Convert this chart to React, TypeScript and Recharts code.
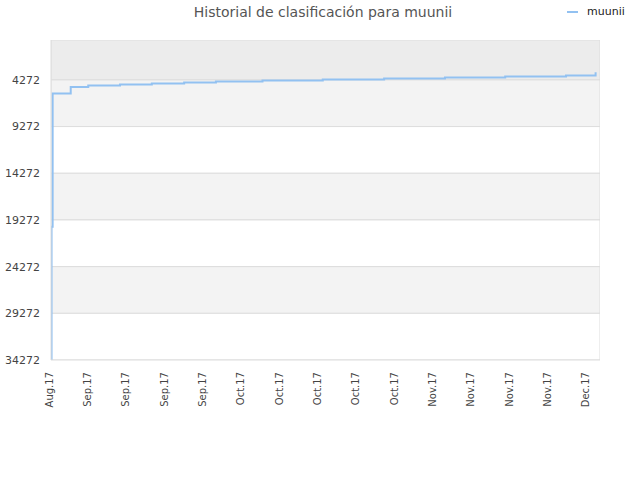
import React from "react";
import { LineChart, Line, XAxis, YAxis, ReferenceArea } from "recharts";

// day offsets from the first tick (Aug 27)
const days = [0, 0.1, 0.3, 3.6, 6.8, 12.6, 18.4, 24.3, 30.1, 38.6, 49.6, 60.8, 71.9, 82.9, 94.0, 99.4];
const ranks = [34272, 20000, 5740, 5022, 4882, 4775, 4668, 4561, 4454, 4347, 4240, 4133, 4025, 3918, 3811, 3450];

const tickDays = [0, 7, 14, 21, 28, 35, 42, 49, 56, 63, 70, 77, 84, 91, 98];
const tickLabels = [
  "Aug.17", "Sep.17", "Sep.17", "Sep.17", "Sep.17",
  "Oct.17", "Oct.17", "Oct.17", "Oct.17", "Oct.17",
  "Nov.17", "Nov.17", "Nov.17", "Nov.17", "Dec.17",
];
const yTicks = [4272, 9272, 14272, 19272, 24272, 29272, 34272];
const bandEdges = [0, 4272, 9272, 14272, 19272, 24272, 29272, 34272];
const bandFills = ["#ececec", "#f3f3f3", "#ffffff", "#f3f3f3", "#ffffff", "#f3f3f3", "#ffffff"];

const seriesName = "muunii";
const lineColor = "#92c1f1";

const data = days.map((d, i) => ({ day: d, rank: ranks[i] }));

const FONT = "'DejaVu Sans', Verdana, sans-serif";

const XTick = (props: any) => {
  const { x, y, payload } = props;
  const idx = tickDays.indexOf(payload.value);
  return (
    <text
      x={x}
      y={y}
      dy={1.5}
      transform={`rotate(-90, ${x}, ${y})`}
      textAnchor="end"
      fontSize={10}
      fontFamily={FONT}
      fill="#444"
    >
      {idx >= 0 ? tickLabels[idx] : ""}
    </text>
  );
};

export default function App() {
  return (
    <div style={{ position: "absolute", left: 0, top: 0, width: 640, height: 480, background: "#fff" }}>
      <div
        style={{
          position: "absolute",
          left: 0,
          top: 4,
          width: 646,
          textAlign: "center",
          fontFamily: FONT,
          fontSize: 14,
          color: "#555",
        }}
      >
        Historial de clasificación para muunii
      </div>
      <div
        style={{
          position: "absolute",
          left: 567,
          top: 5,
          display: "flex",
          alignItems: "center",
          fontFamily: FONT,
          fontSize: 11,
          color: "#222",
          whiteSpace: "nowrap",
        }}
      >
        <span style={{ display: "inline-block", width: 11, height: 2, background: lineColor, marginRight: 9 }} />
        <span>{seriesName}</span>
      </div>
      <LineChart width={640} height={480} data={data} margin={{ top: 40, right: 40, bottom: 60, left: 0 }}>
        {bandFills.map((f, i) => (
          <ReferenceArea
            key={i}
            y1={bandEdges[i]}
            y2={bandEdges[i + 1]}
            fill={f}
            fillOpacity={1}
            stroke="#dddddd"
            strokeWidth={1}
            ifOverflow="hidden"
          />
        ))}
        <XAxis
          dataKey="day"
          type="number"
          domain={[0, 100.2]}
          ticks={tickDays}
          interval={0}
          height={60}
          tick={<XTick />}
          tickLine={false}
          axisLine={{ stroke: "#dddddd" }}
          tickSize={0}
          tickMargin={12}
          allowDataOverflow
        />
        <YAxis
          type="number"
          reversed
          domain={[0, 34272]}
          ticks={yTicks}
          interval={0}
          width={51}
          tickLine={false}
          axisLine={{ stroke: "#dddddd" }}
          tickSize={6}
          tickMargin={5}
          tick={{ fontSize: 11, fontFamily: FONT, fill: "#444" }}
          allowDataOverflow
        />
        <Line
          type="stepAfter"
          dataKey="rank"
          name={seriesName}
          stroke={lineColor}
          strokeWidth={2}
          dot={false}
          isAnimationActive={false}
        />
      </LineChart>
    </div>
  );
}
